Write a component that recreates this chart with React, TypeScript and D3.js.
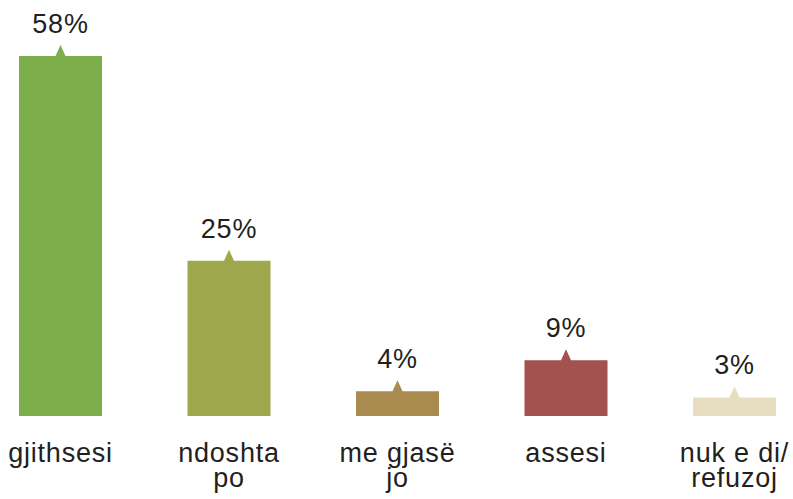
import React from 'react';
import * as d3 from 'd3';

const categories = ['gjithsesi', 'ndoshta\npo', 'me gjasë\njo', 'assesi', 'nuk e di/\nrefuzoj'];
const values = [58, 25, 4, 9, 3];
const colors = ['#7cae4c', '#9fa84c', '#a98b4f', '#a3524f', '#e7ddc0'];

const width = 793;
const height = 499;
const baseline = 416;
const font = '"Liberation Sans", Arial, Helvetica, sans-serif';

export default function App() {
  const x = d3.scaleBand<string>()
    .domain(categories)
    .range([19, 776])
    .paddingInner(0.5074)
    .paddingOuter(0);

  const y = d3.scaleLinear()
    .domain([0, 58])
    .range([baseline, 56]);

  return (
    <svg
      width={width}
      height={height}
      style={{ position: 'absolute', left: 0, top: 0, display: 'block', background: '#fff' }}
    >
      {categories.map((c, i) => {
        const x0 = x(c)!;
        const bw = x.bandwidth();
        const cx = x0 + bw / 2;
        const top = y(values[i]);
        // bar with a small pointer on top
        const path = d3.path();
        path.moveTo(x0, baseline);
        path.lineTo(x0, top);
        path.lineTo(cx - 5, top);
        path.lineTo(cx, top - 11);
        path.lineTo(cx + 5, top);
        path.lineTo(x0 + bw, top);
        path.lineTo(x0 + bw, baseline);
        path.closePath();
        const lines = c.split('\n');
        return (
          <g key={c}>
            <path d={path.toString()} fill={colors[i]} />
            <text
              x={cx}
              y={top - 23}
              textAnchor="middle"
              fontFamily={font}
              fontSize={27}
              letterSpacing={0.8}
              fill="#231f20"
            >
              {values[i]}%
            </text>
            {lines.map((l, j) => (
              <text
                key={j}
                x={cx}
                y={462 + j * 25}
                textAnchor="middle"
                fontFamily={font}
                fontSize={27}
                letterSpacing={0.8}
                fill="#231f20"
              >
                {l}
              </text>
            ))}
          </g>
        );
      })}
    </svg>
  );
}
